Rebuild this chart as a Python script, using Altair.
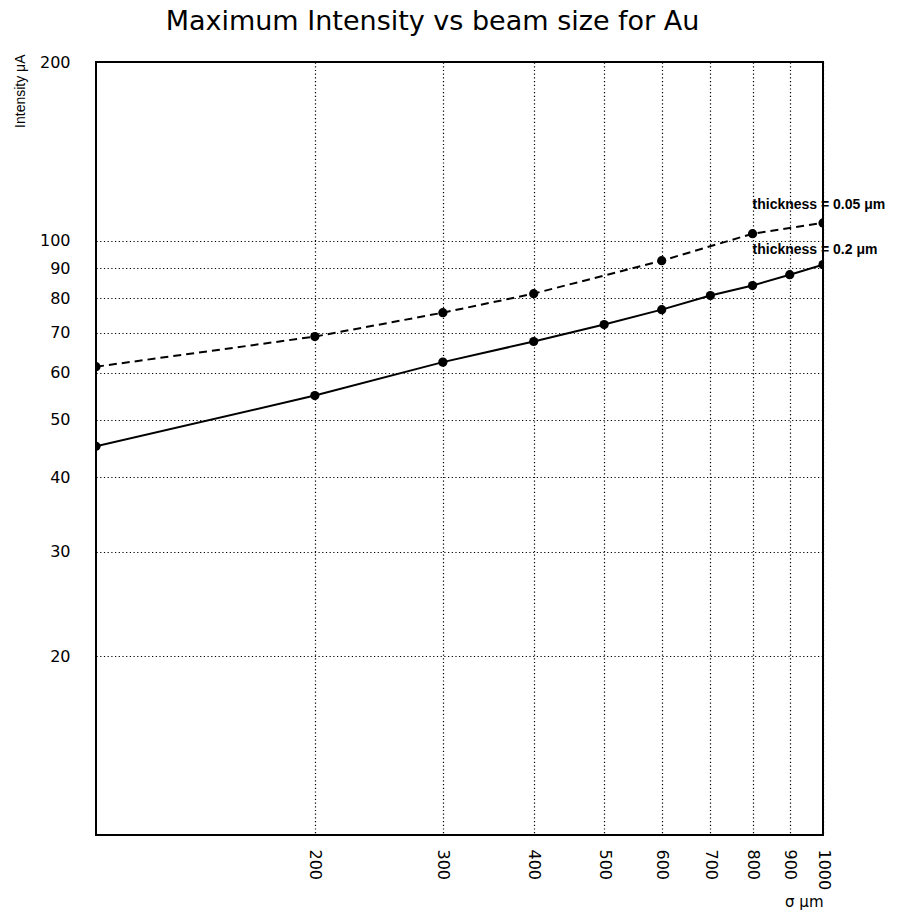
import altair as alt
import pandas as pd

# --- data ---
sigma_thin = [100, 200, 300, 400, 600, 800, 1000]
intensity_thin = [61.4, 69.0, 75.7, 81.5, 92.6, 102.8, 107.2]

sigma_thick = [100, 200, 300, 400, 500, 600, 700, 800, 900, 1000]
intensity_thick = [45.1, 54.9, 62.5, 67.7, 72.3, 76.6, 80.9, 84.1, 87.7, 91.2]

x_ticks = [200, 300, 400, 500, 600, 700, 800, 900, 1000]
y_ticks = [20, 30, 40, 50, 60, 70, 80, 90, 100, 200]

label_text = ["thickness = 0.05 \u03bcm", "thickness = 0.2 \u03bcm"]
label_x = [800, 800]
label_y = [115, 96.6]

df_thin = pd.DataFrame({"sigma": sigma_thin, "intensity": intensity_thin})
df_thick = pd.DataFrame({"sigma": sigma_thick, "intensity": intensity_thick})
df_lab = pd.DataFrame({"sigma": label_x, "intensity": label_y, "text": label_text})

FONT = "DejaVu Sans"

x_scale = alt.Scale(type="log", domain=[100, 1000], nice=False)
y_scale = alt.Scale(type="log", domain=[10, 200], nice=False)

x_enc = alt.X(
    "sigma:Q",
    scale=x_scale,
    axis=alt.Axis(
        values=x_ticks,
        format="d",
        labelAngle=90,
        labelFont=FONT,
        labelFontSize=16,
        labelColor="black",
        labelPadding=14,
        labelFlush=False,
        labelOverlap=False,
        ticks=False,
        domain=False,
        grid=True,
        gridColor="black",
        gridOpacity=1,
        gridDash=[1.2, 2.5],
        gridWidth=1.2,
        title="\u03c3 \u03bcm",
        titleFont=FONT,
        titleFontSize=15,
        titleFontWeight="normal",
        titleColor="black",
        titleAnchor="end",
        titlePadding=5,
    ),
)

y_enc = alt.Y(
    "intensity:Q",
    scale=y_scale,
    axis=alt.Axis(
        values=y_ticks,
        format="d",
        labelFont=FONT,
        labelFontSize=16,
        labelColor="black",
        labelPadding=26,
        labelFlush=False,
        labelOverlap=False,
        ticks=False,
        domain=False,
        grid=True,
        gridColor="black",
        gridOpacity=1,
        gridDash=[1.2, 2.5],
        gridWidth=1.2,
        title="Intensity \u03bcA",
        titleFont="Liberation Sans",
        titleFontSize=14,
        titleFontWeight="normal",
        titleColor="black",
        titleX=-76,
        titleY=-8,
        titleAngle=-90,
        titleAlign="right",
        titleBaseline="middle",
    ),
)

base_thin = alt.Chart(df_thin).encode(x=x_enc, y=y_enc)
base_thick = alt.Chart(df_thick).encode(x=x_enc, y=y_enc)

line_thin = base_thin.mark_line(color="black", strokeWidth=2, strokeDash=[8, 5], clip=True)
pts_thin = base_thin.mark_circle(color="black", size=85, opacity=1, clip=True)
line_thick = base_thick.mark_line(color="black", strokeWidth=2, clip=True)
pts_thick = base_thick.mark_circle(color="black", size=85, opacity=1, clip=True)

labels = alt.Chart(df_lab).mark_text(
    align="left", baseline="middle", font="Liberation Sans", fontSize=14,
    fontWeight="bold", color="black"
).encode(x=alt.X("sigma:Q", scale=x_scale), y=alt.Y("intensity:Q", scale=y_scale), text="text:N")

chart = (
    alt.layer(line_thin, line_thick, pts_thin, pts_thick, labels)
    .properties(
        width=727,
        height=773,
        background="white",
        title=alt.TitleParams(
            "Maximum Intensity vs beam size for Au",
            font=FONT,
            fontSize=27,
            fontWeight="normal",
            color="black",
            anchor="middle",
            offset=18,
            dx=-27,
        ),
        autosize=alt.AutoSizeParams(type="none"),
        padding={"left": 96, "top": 62, "right": 80, "bottom": 87},
    )
    .configure_view(stroke="black", strokeWidth=2)
)

chart.save("out.html", embed_options={"renderer": "svg", "actions": False})
